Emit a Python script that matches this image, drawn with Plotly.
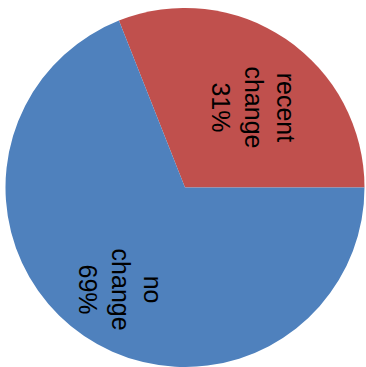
import math
import plotly.graph_objects as go

labels = ["recent change", "no change"]
values = [31, 69]
colors = ["#C0504D", "#4F81BD"]
label_lines = ["recent<br>change", "no<br>change"]
label_radius = [0.585, 0.672]
label_angle_shift = [-6.5, 2.4]

W, H = 366, 367
cx, cy, r = 185.0, 187.5, 179.5

total = sum(values)
first_span = 360.0 * values[0] / total

fig = go.Figure(go.Pie(
    labels=labels,
    values=values,
    sort=False,
    direction="clockwise",
    rotation=90 - first_span,
    marker=dict(colors=colors, line=dict(width=0)),
    textinfo="none",
    hoverinfo="label+percent",
    showlegend=False,
    domain=dict(x=[(cx - r) / W, (cx + r) / W], y=[0, 1 - (cy - r) / H]),
))

# label positions derived from slice mid-angles (math convention, CCW from east)
start = 0.0
annotations = []
for lab, v, fr, sh in zip(label_lines, values, label_radius, label_angle_shift):
    span = 360.0 * v / total
    mid = math.radians(start + span / 2 + sh)
    start += span
    px = cx + fr * r * math.cos(mid)
    py = cy - fr * r * math.sin(mid)
    pct = round(100 * v / total)
    annotations.append(dict(
        x=px / W, y=1 - py / H, xref="paper", yref="paper",
        text=f"{lab}<br>{pct}%", showarrow=False, textangle=90,
        xanchor="center", yanchor="middle", align="center",
        font=dict(family="Liberation Sans, Arial", size=25, color="#000000"),
    ))

fig.update_layout(
    width=W, height=H,
    margin=dict(l=0, r=0, t=0, b=0),
    paper_bgcolor="white", plot_bgcolor="white",
    annotations=annotations,
)

fig.write_html(
    "out.html",
    config={"displayModeBar": False},
    post_script="document.body.style.margin='0';document.body.style.overflow='hidden';",
)
